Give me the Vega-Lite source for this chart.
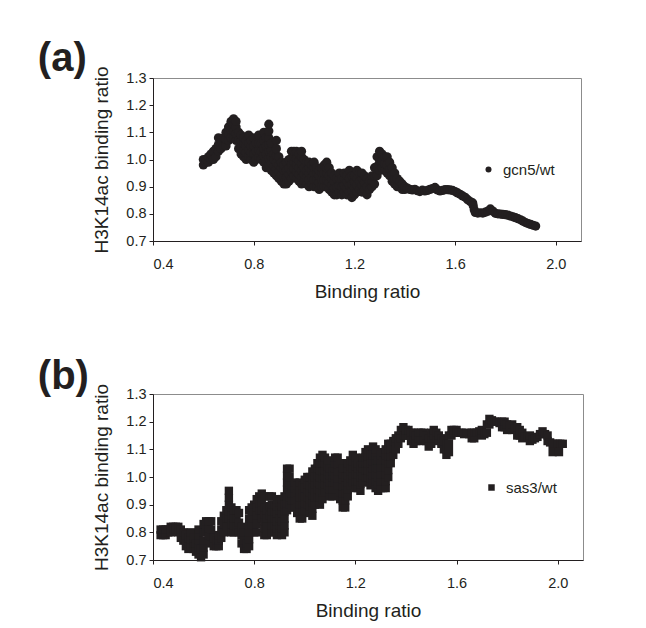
{
"$schema": "https://vega.github.io/schema/vega-lite/v6.json",
"padding": {"left": 37, "top": 38, "right": 0, "bottom": 0},
"background": "white",
"config": {
  "font": "Liberation Sans",
  "view": {"stroke": "#8c8c8c", "strokeWidth": 1},
  "axis": {"domainColor": "#231f20", "tickColor": "#231f20", "labelColor": "#231f20", "titleColor": "#231f20", "grid": false, "labelFontSize": 14.5, "titleFontSize": 19, "titleFontWeight": "normal", "tickSize": 4, "labelFont": "Liberation Sans", "titleFont": "Liberation Sans"},
  "axisX": {"labelPadding": 12, "titlePadding": 12},
  "axisY": {"labelPadding": 3, "titlePadding": 14},
  "legend": {"padding": 0, "labelFontSize": 15, "labelColor": "#231f20", "labelFont": "Liberation Sans", "labelOffset": 7},
  "title": {"fontSize": 40, "fontWeight": "bold", "color": "#231f20", "anchor": "start", "offset": -13, "font": "Liberation Sans"},
  "concat": {"spacing": 54}
},
"vconcat": [
{
  "width": 428, "height": 163,
  "title": {"text": "(a)", "dx": -55},
  "data": {"values": [
{"x":0.6,"y":0.98},{"x":0.6,"y":1.0},{"x":0.61,"y":0.99},{"x":0.61,"y":1.0},{"x":0.62,"y":0.99},{"x":0.62,"y":1.01},{"x":0.63,"y":1.0},{"x":0.63,"y":1.02},{"x":0.64,"y":1.0},{"x":0.64,"y":1.03},{"x":0.65,"y":1.01},{"x":0.65,"y":1.04},
{"x":0.66,"y":1.03},{"x":0.66,"y":1.055},{"x":0.66,"y":1.08},{"x":0.67,"y":1.04},{"x":0.67,"y":1.07},{"x":0.68,"y":1.05},{"x":0.68,"y":1.08},{"x":0.69,"y":1.05},{"x":0.69,"y":1.075},{"x":0.69,"y":1.1},
{"x":0.7,"y":1.07},{"x":0.7,"y":1.095},{"x":0.7,"y":1.12},{"x":0.71,"y":1.08},{"x":0.71,"y":1.11},{"x":0.71,"y":1.14},{"x":0.72,"y":1.08},{"x":0.72,"y":1.105},{"x":0.72,"y":1.13},{"x":0.72,"y":1.15},
{"x":0.73,"y":1.07},{"x":0.73,"y":1.095},{"x":0.73,"y":1.12},{"x":0.73,"y":1.14},{"x":0.74,"y":1.04},{"x":0.74,"y":1.07},{"x":0.74,"y":1.1},{"x":0.75,"y":1.02},{"x":0.75,"y":1.045},{"x":0.75,"y":1.07},{"x":0.75,"y":1.09},
{"x":0.76,"y":1.01},{"x":0.76,"y":1.035},{"x":0.76,"y":1.06},{"x":0.76,"y":1.08},{"x":0.77,"y":1.0},{"x":0.77,"y":1.025},{"x":0.77,"y":1.05},{"x":0.77,"y":1.07},{"x":0.78,"y":1.01},{"x":0.78,"y":1.035},{"x":0.78,"y":1.06},{"x":0.78,"y":1.09},
{"x":0.79,"y":1.0},{"x":0.79,"y":1.025},{"x":0.79,"y":1.05},{"x":0.79,"y":1.07},{"x":0.8,"y":0.99},{"x":0.8,"y":1.02},{"x":0.8,"y":1.05},{"x":0.8,"y":1.08},{"x":0.81,"y":1.0},{"x":0.81,"y":1.03},{"x":0.81,"y":1.06},
{"x":0.82,"y":1.01},{"x":0.82,"y":1.035},{"x":0.82,"y":1.06},{"x":0.82,"y":1.09},{"x":0.83,"y":1.0},{"x":0.83,"y":1.03},{"x":0.83,"y":1.06},{"x":0.84,"y":0.99},{"x":0.84,"y":1.015},{"x":0.84,"y":1.04},{"x":0.84,"y":1.07},{"x":0.84,"y":1.1},
{"x":0.85,"y":0.97},{"x":0.85,"y":0.995},{"x":0.85,"y":1.02},{"x":0.85,"y":1.05},{"x":0.85,"y":1.08},{"x":0.86,"y":0.98},{"x":0.86,"y":1.005},{"x":0.86,"y":1.03},{"x":0.86,"y":1.055},{"x":0.86,"y":1.08},{"x":0.86,"y":1.105},{"x":0.86,"y":1.13},
{"x":0.87,"y":0.96},{"x":0.87,"y":0.985},{"x":0.87,"y":1.01},{"x":0.87,"y":1.035},{"x":0.87,"y":1.06},{"x":0.88,"y":0.95},{"x":0.88,"y":0.975},{"x":0.88,"y":1.0},{"x":0.88,"y":1.02},
{"x":0.89,"y":0.94},{"x":0.89,"y":0.965},{"x":0.89,"y":0.99},{"x":0.89,"y":1.015},{"x":0.89,"y":1.04},{"x":0.89,"y":1.07},{"x":0.9,"y":0.93},{"x":0.9,"y":0.955},{"x":0.9,"y":0.98},{"x":0.9,"y":1.01},
{"x":0.91,"y":0.92},{"x":0.91,"y":0.945},{"x":0.91,"y":0.97},{"x":0.91,"y":0.99},{"x":0.92,"y":0.91},{"x":0.92,"y":0.935},{"x":0.92,"y":0.96},{"x":0.92,"y":0.98},{"x":0.93,"y":0.91},{"x":0.93,"y":0.935},{"x":0.93,"y":0.96},{"x":0.93,"y":0.99},
{"x":0.94,"y":0.92},{"x":0.94,"y":0.945},{"x":0.94,"y":0.97},{"x":0.94,"y":1.0},{"x":0.95,"y":0.93},{"x":0.95,"y":0.955},{"x":0.95,"y":0.98},{"x":0.95,"y":1.005},{"x":0.95,"y":1.03},
{"x":0.96,"y":0.94},{"x":0.96,"y":0.965},{"x":0.96,"y":0.99},{"x":0.96,"y":1.01},{"x":0.96,"y":1.03},{"x":0.97,"y":0.93},{"x":0.97,"y":0.955},{"x":0.97,"y":0.98},{"x":0.97,"y":1.005},{"x":0.97,"y":1.03},
{"x":0.98,"y":0.92},{"x":0.98,"y":0.945},{"x":0.98,"y":0.97},{"x":0.98,"y":0.995},{"x":0.98,"y":1.02},{"x":0.99,"y":0.91},{"x":0.99,"y":0.935},{"x":0.99,"y":0.96},{"x":0.99,"y":0.985},{"x":0.99,"y":1.01},{"x":0.99,"y":1.03},
{"x":1.0,"y":0.92},{"x":1.0,"y":0.945},{"x":1.0,"y":0.97},{"x":1.0,"y":1.0},{"x":1.01,"y":0.91},{"x":1.01,"y":0.935},{"x":1.01,"y":0.96},{"x":1.01,"y":0.99},
{"x":1.02,"y":0.9},{"x":1.02,"y":0.925},{"x":1.02,"y":0.95},{"x":1.02,"y":0.97},{"x":1.02,"y":0.99},{"x":1.03,"y":0.91},{"x":1.03,"y":0.935},{"x":1.03,"y":0.96},{"x":1.03,"y":0.98},
{"x":1.04,"y":0.9},{"x":1.04,"y":0.925},{"x":1.04,"y":0.95},{"x":1.04,"y":0.97},{"x":1.04,"y":0.99},{"x":1.05,"y":0.9},{"x":1.05,"y":0.925},{"x":1.05,"y":0.95},{"x":1.05,"y":0.97},
{"x":1.06,"y":0.89},{"x":1.06,"y":0.915},{"x":1.06,"y":0.94},{"x":1.06,"y":0.96},{"x":1.07,"y":0.9},{"x":1.07,"y":0.925},{"x":1.07,"y":0.95},{"x":1.07,"y":0.97},
{"x":1.08,"y":0.9},{"x":1.08,"y":0.925},{"x":1.08,"y":0.95},{"x":1.08,"y":0.98},{"x":1.09,"y":0.9},{"x":1.09,"y":0.925},{"x":1.09,"y":0.95},{"x":1.09,"y":0.97},{"x":1.09,"y":0.99},
{"x":1.1,"y":0.89},{"x":1.1,"y":0.915},{"x":1.1,"y":0.94},{"x":1.1,"y":0.97},{"x":1.11,"y":0.88},{"x":1.11,"y":0.905},{"x":1.11,"y":0.93},{"x":1.11,"y":0.95},
{"x":1.12,"y":0.87},{"x":1.12,"y":0.895},{"x":1.12,"y":0.92},{"x":1.12,"y":0.94},{"x":1.13,"y":0.87},{"x":1.13,"y":0.9},{"x":1.13,"y":0.93},
{"x":1.14,"y":0.88},{"x":1.14,"y":0.905},{"x":1.14,"y":0.93},{"x":1.14,"y":0.95},{"x":1.15,"y":0.87},{"x":1.15,"y":0.9},{"x":1.15,"y":0.93},
{"x":1.16,"y":0.88},{"x":1.16,"y":0.905},{"x":1.16,"y":0.93},{"x":1.16,"y":0.95},{"x":1.17,"y":0.87},{"x":1.17,"y":0.895},{"x":1.17,"y":0.92},{"x":1.17,"y":0.94},
{"x":1.18,"y":0.88},{"x":1.18,"y":0.905},{"x":1.18,"y":0.93},{"x":1.18,"y":0.96},{"x":1.19,"y":0.86},{"x":1.19,"y":0.885},{"x":1.19,"y":0.91},{"x":1.19,"y":0.94},
{"x":1.2,"y":0.87},{"x":1.2,"y":0.895},{"x":1.2,"y":0.92},{"x":1.2,"y":0.94},{"x":1.21,"y":0.88},{"x":1.21,"y":0.905},{"x":1.21,"y":0.93},{"x":1.21,"y":0.96},
{"x":1.22,"y":0.89},{"x":1.22,"y":0.92},{"x":1.22,"y":0.95},{"x":1.23,"y":0.88},{"x":1.23,"y":0.905},{"x":1.23,"y":0.93},{"x":1.23,"y":0.95},
{"x":1.24,"y":0.89},{"x":1.24,"y":0.915},{"x":1.24,"y":0.94},{"x":1.25,"y":0.87},{"x":1.25,"y":0.9},{"x":1.25,"y":0.93},{"x":1.26,"y":0.89},{"x":1.26,"y":0.92},
{"x":1.27,"y":0.9},{"x":1.27,"y":0.92},{"x":1.27,"y":0.94},{"x":1.28,"y":0.91},{"x":1.28,"y":0.94},{"x":1.28,"y":0.97},{"x":1.29,"y":0.94},{"x":1.29,"y":0.975},{"x":1.29,"y":1.01},
{"x":1.3,"y":0.96},{"x":1.3,"y":0.995},{"x":1.3,"y":1.03},{"x":1.31,"y":0.97},{"x":1.31,"y":0.995},{"x":1.31,"y":1.02},{"x":1.32,"y":0.96},{"x":1.32,"y":0.985},{"x":1.32,"y":1.01},
{"x":1.33,"y":0.95},{"x":1.33,"y":0.98},{"x":1.33,"y":1.01},{"x":1.34,"y":0.94},{"x":1.34,"y":0.965},{"x":1.34,"y":0.99},{"x":1.35,"y":0.92},{"x":1.35,"y":0.945},{"x":1.35,"y":0.97},
{"x":1.36,"y":0.91},{"x":1.36,"y":0.93},{"x":1.36,"y":0.95},{"x":1.37,"y":0.9},{"x":1.37,"y":0.93},{"x":1.38,"y":0.9},{"x":1.38,"y":0.92},{"x":1.39,"y":0.89},{"x":1.39,"y":0.91},{"x":1.4,"y":0.89},{"x":1.4,"y":0.9},
{"x":1.41,"y":0.895},{"x":1.42,"y":0.89},{"x":1.43,"y":0.888},{"x":1.44,"y":0.89},{"x":1.45,"y":0.885},{"x":1.46,"y":0.882},{"x":1.47,"y":0.887},{"x":1.48,"y":0.884},{"x":1.49,"y":0.886},{"x":1.5,"y":0.89},
{"x":1.51,"y":0.893},{"x":1.52,"y":0.897},{"x":1.53,"y":0.888},{"x":1.54,"y":0.884},{"x":1.55,"y":0.886},{"x":1.56,"y":0.889},{"x":1.57,"y":0.889},{"x":1.58,"y":0.888},{"x":1.59,"y":0.886},{"x":1.6,"y":0.882},
{"x":1.61,"y":0.877},{"x":1.62,"y":0.872},{"x":1.63,"y":0.866},{"x":1.64,"y":0.861},{"x":1.65,"y":0.852},{"x":1.66,"y":0.845},{"x":1.67,"y":0.84},{"x":1.672,"y":0.83},{"x":1.676,"y":0.815},{"x":1.68,"y":0.805},
{"x":1.69,"y":0.803},{"x":1.7,"y":0.804},{"x":1.71,"y":0.803},{"x":1.72,"y":0.806},{"x":1.73,"y":0.81},{"x":1.74,"y":0.818},{"x":1.75,"y":0.81},{"x":1.76,"y":0.802},{"x":1.77,"y":0.8},{"x":1.78,"y":0.799},
{"x":1.79,"y":0.798},{"x":1.8,"y":0.797},{"x":1.81,"y":0.795},{"x":1.82,"y":0.792},{"x":1.83,"y":0.789},{"x":1.84,"y":0.786},{"x":1.85,"y":0.782},{"x":1.86,"y":0.778},{"x":1.87,"y":0.773},{"x":1.88,"y":0.768},
{"x":1.89,"y":0.764},{"x":1.9,"y":0.761},{"x":1.91,"y":0.758},{"x":1.92,"y":0.755}
  ]},
  "mark": {"type": "point", "filled": true, "opacity": 1, "size": 85, "shape": "circle", "strokeWidth": 0},
  "encoding": {
    "x": {"field": "x", "type": "quantitative", "scale": {"domain": [0.4, 2.1], "nice": false, "zero": false}, "axis": {"values": [0.4, 0.8, 1.2, 1.6, 2.0], "format": ".1f", "title": "Binding ratio"}},
    "y": {"field": "y", "type": "quantitative", "scale": {"domain": [0.7, 1.3], "nice": false, "zero": false}, "axis": {"values": [0.7, 0.8, 0.9, 1.0, 1.1, 1.2, 1.3], "format": ".1f", "title": "H3K14ac binding ratio"}},
    "color": {"datum": "gcn5/wt", "type": "nominal", "scale": {"range": ["#231f20"]}, "legend": {"title": null, "orient": "none", "legendX": 328, "legendY": 84, "symbolType": "circle", "symbolSize": 36}}
  }
},
{
  "width": 430, "height": 166,
  "title": {"text": "(b)", "dx": -55},
  "data": {"values": [
{"x":0.43,"y":0.79},{"x":0.43,"y":0.81},{"x":0.44,"y":0.79},{"x":0.44,"y":0.81},{"x":0.45,"y":0.79},{"x":0.45,"y":0.81},{"x":0.46,"y":0.8},{"x":0.46,"y":0.81},{"x":0.47,"y":0.8},{"x":0.47,"y":0.82},
{"x":0.48,"y":0.81},{"x":0.48,"y":0.82},{"x":0.49,"y":0.81},{"x":0.49,"y":0.82},{"x":0.5,"y":0.8},{"x":0.5,"y":0.82},{"x":0.51,"y":0.78},{"x":0.51,"y":0.81},{"x":0.52,"y":0.77},{"x":0.52,"y":0.8},
{"x":0.53,"y":0.75},{"x":0.53,"y":0.77},{"x":0.53,"y":0.79},{"x":0.54,"y":0.74},{"x":0.54,"y":0.76},{"x":0.54,"y":0.78},{"x":0.55,"y":0.75},{"x":0.55,"y":0.775},{"x":0.55,"y":0.8},
{"x":0.56,"y":0.74},{"x":0.56,"y":0.76},{"x":0.56,"y":0.78},{"x":0.57,"y":0.73},{"x":0.57,"y":0.76},{"x":0.58,"y":0.72},{"x":0.58,"y":0.745},{"x":0.58,"y":0.77},{"x":0.58,"y":0.79},{"x":0.58,"y":0.81},
{"x":0.59,"y":0.71},{"x":0.59,"y":0.74},{"x":0.6,"y":0.72},{"x":0.6,"y":0.745},{"x":0.6,"y":0.77},{"x":0.6,"y":0.8},{"x":0.6,"y":0.83},{"x":0.61,"y":0.8},{"x":0.61,"y":0.82},{"x":0.61,"y":0.84},
{"x":0.62,"y":0.79},{"x":0.62,"y":0.815},{"x":0.62,"y":0.84},{"x":0.63,"y":0.76},{"x":0.63,"y":0.785},{"x":0.63,"y":0.81},{"x":0.63,"y":0.84},{"x":0.64,"y":0.75},{"x":0.64,"y":0.78},{"x":0.65,"y":0.75},{"x":0.65,"y":0.77},
{"x":0.66,"y":0.75},{"x":0.66,"y":0.77},{"x":0.66,"y":0.79},{"x":0.67,"y":0.78},{"x":0.67,"y":0.81},{"x":0.67,"y":0.84},{"x":0.68,"y":0.8},{"x":0.68,"y":0.83},{"x":0.68,"y":0.86},{"x":0.69,"y":0.82},{"x":0.69,"y":0.85},{"x":0.69,"y":0.88},
{"x":0.7,"y":0.85},{"x":0.7,"y":0.875},{"x":0.7,"y":0.9},{"x":0.7,"y":0.925},{"x":0.7,"y":0.95},{"x":0.71,"y":0.8},{"x":0.71,"y":0.83},{"x":0.71,"y":0.86},{"x":0.71,"y":0.89},
{"x":0.72,"y":0.8},{"x":0.72,"y":0.825},{"x":0.72,"y":0.85},{"x":0.72,"y":0.88},{"x":0.73,"y":0.82},{"x":0.73,"y":0.85},{"x":0.73,"y":0.88},{"x":0.74,"y":0.8},{"x":0.74,"y":0.835},{"x":0.74,"y":0.87},
{"x":0.75,"y":0.76},{"x":0.75,"y":0.79},{"x":0.75,"y":0.82},{"x":0.76,"y":0.74},{"x":0.76,"y":0.77},{"x":0.76,"y":0.8},{"x":0.77,"y":0.74},{"x":0.77,"y":0.76},
{"x":0.78,"y":0.75},{"x":0.78,"y":0.775},{"x":0.78,"y":0.8},{"x":0.78,"y":0.825},{"x":0.78,"y":0.85},{"x":0.78,"y":0.88},{"x":0.79,"y":0.83},{"x":0.79,"y":0.86},{"x":0.79,"y":0.89},
{"x":0.8,"y":0.8},{"x":0.8,"y":0.825},{"x":0.8,"y":0.85},{"x":0.8,"y":0.875},{"x":0.8,"y":0.9},{"x":0.81,"y":0.8},{"x":0.81,"y":0.83},{"x":0.81,"y":0.86},{"x":0.81,"y":0.89},{"x":0.81,"y":0.92},
{"x":0.82,"y":0.88},{"x":0.82,"y":0.905},{"x":0.82,"y":0.93},{"x":0.83,"y":0.85},{"x":0.83,"y":0.88},{"x":0.83,"y":0.91},{"x":0.83,"y":0.94},
{"x":0.84,"y":0.79},{"x":0.84,"y":0.815},{"x":0.84,"y":0.84},{"x":0.84,"y":0.865},{"x":0.84,"y":0.89},{"x":0.84,"y":0.93},{"x":0.85,"y":0.79},{"x":0.85,"y":0.82},{"x":0.85,"y":0.85},{"x":0.85,"y":0.88},
{"x":0.86,"y":0.86},{"x":0.86,"y":0.895},{"x":0.86,"y":0.93},{"x":0.87,"y":0.8},{"x":0.87,"y":0.825},{"x":0.87,"y":0.85},{"x":0.87,"y":0.875},{"x":0.87,"y":0.9},{"x":0.87,"y":0.93},
{"x":0.88,"y":0.8},{"x":0.88,"y":0.825},{"x":0.88,"y":0.85},{"x":0.88,"y":0.875},{"x":0.88,"y":0.9},{"x":0.89,"y":0.79},{"x":0.89,"y":0.815},{"x":0.89,"y":0.84},{"x":0.89,"y":0.87},{"x":0.89,"y":0.895},{"x":0.89,"y":0.92},
{"x":0.9,"y":0.8},{"x":0.9,"y":0.825},{"x":0.9,"y":0.85},{"x":0.9,"y":0.88},{"x":0.9,"y":0.91},{"x":0.91,"y":0.79},{"x":0.91,"y":0.815},{"x":0.91,"y":0.84},{"x":0.91,"y":0.87},{"x":0.91,"y":0.895},{"x":0.91,"y":0.92},
{"x":0.92,"y":0.8},{"x":0.92,"y":0.825},{"x":0.92,"y":0.85},{"x":0.92,"y":0.875},{"x":0.92,"y":0.9},{"x":0.92,"y":0.93},
{"x":0.93,"y":0.88},{"x":0.93,"y":0.905},{"x":0.93,"y":0.93},{"x":0.93,"y":0.955},{"x":0.93,"y":0.98},{"x":0.93,"y":1.005},{"x":0.93,"y":1.03},
{"x":0.94,"y":0.9},{"x":0.94,"y":0.925},{"x":0.94,"y":0.95},{"x":0.94,"y":0.975},{"x":0.94,"y":1.0},{"x":0.94,"y":1.03},{"x":0.95,"y":0.89},{"x":0.95,"y":0.915},{"x":0.95,"y":0.94},{"x":0.95,"y":0.97},
{"x":0.96,"y":0.89},{"x":0.96,"y":0.915},{"x":0.96,"y":0.94},{"x":0.96,"y":0.96},{"x":0.96,"y":0.98},{"x":0.97,"y":0.87},{"x":0.97,"y":0.895},{"x":0.97,"y":0.92},{"x":0.97,"y":0.945},{"x":0.97,"y":0.97},
{"x":0.98,"y":0.85},{"x":0.98,"y":0.875},{"x":0.98,"y":0.9},{"x":0.98,"y":0.925},{"x":0.98,"y":0.95},{"x":0.98,"y":0.98},{"x":0.99,"y":0.85},{"x":0.99,"y":0.875},{"x":0.99,"y":0.9},{"x":0.99,"y":0.925},{"x":0.99,"y":0.95},{"x":0.99,"y":0.97},
{"x":1.0,"y":0.88},{"x":1.0,"y":0.905},{"x":1.0,"y":0.93},{"x":1.0,"y":0.96},{"x":1.0,"y":0.99},{"x":1.01,"y":0.9},{"x":1.01,"y":0.925},{"x":1.01,"y":0.95},{"x":1.01,"y":0.975},{"x":1.01,"y":1.0},
{"x":1.02,"y":0.87},{"x":1.02,"y":0.895},{"x":1.02,"y":0.92},{"x":1.02,"y":0.945},{"x":1.02,"y":0.97},{"x":1.02,"y":1.0},
{"x":1.03,"y":0.86},{"x":1.03,"y":0.885},{"x":1.03,"y":0.91},{"x":1.03,"y":0.935},{"x":1.03,"y":0.96},{"x":1.03,"y":0.99},{"x":1.03,"y":1.02},
{"x":1.04,"y":0.9},{"x":1.04,"y":0.925},{"x":1.04,"y":0.95},{"x":1.04,"y":0.975},{"x":1.04,"y":1.0},{"x":1.04,"y":1.03},
{"x":1.05,"y":0.93},{"x":1.05,"y":0.955},{"x":1.05,"y":0.98},{"x":1.05,"y":1.005},{"x":1.05,"y":1.03},{"x":1.05,"y":1.05},
{"x":1.06,"y":0.9},{"x":1.06,"y":0.925},{"x":1.06,"y":0.95},{"x":1.06,"y":0.975},{"x":1.06,"y":1.0},{"x":1.06,"y":1.025},{"x":1.06,"y":1.05},{"x":1.06,"y":1.07},
{"x":1.07,"y":0.92},{"x":1.07,"y":0.945},{"x":1.07,"y":0.97},{"x":1.07,"y":0.995},{"x":1.07,"y":1.02},{"x":1.07,"y":1.05},{"x":1.07,"y":1.08},
{"x":1.08,"y":0.95},{"x":1.08,"y":0.975},{"x":1.08,"y":1.0},{"x":1.08,"y":1.025},{"x":1.08,"y":1.05},{"x":1.08,"y":1.07},
{"x":1.09,"y":0.97},{"x":1.09,"y":0.995},{"x":1.09,"y":1.02},{"x":1.09,"y":1.04},{"x":1.09,"y":1.06},{"x":1.1,"y":0.93},{"x":1.1,"y":0.955},{"x":1.1,"y":0.98},{"x":1.1,"y":1.005},{"x":1.1,"y":1.03},
{"x":1.11,"y":0.93},{"x":1.11,"y":0.955},{"x":1.11,"y":0.98},{"x":1.11,"y":1.0},{"x":1.11,"y":1.02},{"x":1.12,"y":0.98},{"x":1.12,"y":1.005},{"x":1.12,"y":1.03},{"x":1.12,"y":1.05},{"x":1.12,"y":1.07},
{"x":1.13,"y":0.97},{"x":1.13,"y":0.995},{"x":1.13,"y":1.02},{"x":1.13,"y":1.045},{"x":1.13,"y":1.07},
{"x":1.14,"y":0.92},{"x":1.14,"y":0.945},{"x":1.14,"y":0.97},{"x":1.14,"y":0.995},{"x":1.14,"y":1.02},{"x":1.14,"y":1.05},
{"x":1.15,"y":0.89},{"x":1.15,"y":0.915},{"x":1.15,"y":0.94},{"x":1.15,"y":0.965},{"x":1.15,"y":0.99},{"x":1.15,"y":1.01},{"x":1.15,"y":1.03},
{"x":1.16,"y":0.89},{"x":1.16,"y":0.915},{"x":1.16,"y":0.94},{"x":1.16,"y":0.97},{"x":1.16,"y":1.0},
{"x":1.17,"y":0.93},{"x":1.17,"y":0.955},{"x":1.17,"y":0.98},{"x":1.17,"y":1.005},{"x":1.17,"y":1.03},{"x":1.17,"y":1.05},
{"x":1.18,"y":0.97},{"x":1.18,"y":0.995},{"x":1.18,"y":1.02},{"x":1.18,"y":1.04},{"x":1.18,"y":1.06},
{"x":1.19,"y":0.98},{"x":1.19,"y":1.005},{"x":1.19,"y":1.03},{"x":1.19,"y":1.055},{"x":1.19,"y":1.08},
{"x":1.2,"y":0.96},{"x":1.2,"y":0.985},{"x":1.2,"y":1.01},{"x":1.2,"y":1.04},{"x":1.2,"y":1.07},
{"x":1.21,"y":0.96},{"x":1.21,"y":0.985},{"x":1.21,"y":1.01},{"x":1.21,"y":1.03},{"x":1.21,"y":1.05},
{"x":1.22,"y":0.95},{"x":1.22,"y":0.975},{"x":1.22,"y":1.0},{"x":1.22,"y":1.02},{"x":1.22,"y":1.04},
{"x":1.23,"y":0.98},{"x":1.23,"y":1.005},{"x":1.23,"y":1.03},{"x":1.23,"y":1.05},{"x":1.23,"y":1.07},
{"x":1.24,"y":1.0},{"x":1.24,"y":1.025},{"x":1.24,"y":1.05},{"x":1.24,"y":1.07},{"x":1.24,"y":1.09},
{"x":1.25,"y":1.0},{"x":1.25,"y":1.025},{"x":1.25,"y":1.05},{"x":1.25,"y":1.075},{"x":1.25,"y":1.1},
{"x":1.26,"y":0.97},{"x":1.26,"y":0.995},{"x":1.26,"y":1.02},{"x":1.26,"y":1.05},{"x":1.26,"y":1.08},
{"x":1.27,"y":0.98},{"x":1.27,"y":1.005},{"x":1.27,"y":1.03},{"x":1.27,"y":1.055},{"x":1.27,"y":1.08},{"x":1.27,"y":1.11},
{"x":1.28,"y":0.96},{"x":1.28,"y":0.985},{"x":1.28,"y":1.01},{"x":1.28,"y":1.035},{"x":1.28,"y":1.06},{"x":1.28,"y":1.08},{"x":1.28,"y":1.1},
{"x":1.29,"y":0.95},{"x":1.29,"y":0.975},{"x":1.29,"y":1.0},{"x":1.29,"y":1.03},{"x":1.29,"y":1.06},
{"x":1.3,"y":0.96},{"x":1.3,"y":0.985},{"x":1.3,"y":1.01},{"x":1.3,"y":1.035},{"x":1.3,"y":1.06},{"x":1.3,"y":1.08},
{"x":1.31,"y":0.96},{"x":1.31,"y":0.985},{"x":1.31,"y":1.01},{"x":1.31,"y":1.035},{"x":1.31,"y":1.06},{"x":1.31,"y":1.09},
{"x":1.32,"y":0.96},{"x":1.32,"y":0.985},{"x":1.32,"y":1.01},{"x":1.32,"y":1.035},{"x":1.32,"y":1.06},{"x":1.32,"y":1.08},{"x":1.32,"y":1.1},
{"x":1.33,"y":1.0},{"x":1.33,"y":1.025},{"x":1.33,"y":1.05},{"x":1.33,"y":1.075},{"x":1.33,"y":1.1},{"x":1.33,"y":1.12},
{"x":1.34,"y":1.05},{"x":1.34,"y":1.075},{"x":1.34,"y":1.1},{"x":1.34,"y":1.12},{"x":1.35,"y":1.08},{"x":1.35,"y":1.105},{"x":1.35,"y":1.13},
{"x":1.36,"y":1.1},{"x":1.36,"y":1.12},{"x":1.36,"y":1.14},{"x":1.37,"y":1.12},{"x":1.37,"y":1.15},{"x":1.38,"y":1.14},{"x":1.38,"y":1.17},{"x":1.39,"y":1.15},{"x":1.39,"y":1.18},
{"x":1.4,"y":1.15},{"x":1.4,"y":1.17},{"x":1.41,"y":1.15},{"x":1.41,"y":1.17},{"x":1.42,"y":1.13},{"x":1.42,"y":1.16},{"x":1.43,"y":1.12},{"x":1.43,"y":1.14},{"x":1.43,"y":1.16},
{"x":1.44,"y":1.13},{"x":1.44,"y":1.15},{"x":1.45,"y":1.14},{"x":1.45,"y":1.16},{"x":1.46,"y":1.13},{"x":1.46,"y":1.16},{"x":1.47,"y":1.14},{"x":1.47,"y":1.16},{"x":1.48,"y":1.13},{"x":1.48,"y":1.15},
{"x":1.49,"y":1.11},{"x":1.49,"y":1.14},{"x":1.5,"y":1.12},{"x":1.5,"y":1.14},{"x":1.5,"y":1.16},{"x":1.51,"y":1.15},{"x":1.51,"y":1.17},{"x":1.52,"y":1.14},{"x":1.52,"y":1.16},
{"x":1.53,"y":1.13},{"x":1.53,"y":1.15},{"x":1.54,"y":1.12},{"x":1.54,"y":1.14},{"x":1.55,"y":1.1},{"x":1.55,"y":1.13},{"x":1.56,"y":1.08},{"x":1.56,"y":1.1},{"x":1.56,"y":1.12},
{"x":1.57,"y":1.09},{"x":1.57,"y":1.12},{"x":1.57,"y":1.15},{"x":1.58,"y":1.15},{"x":1.58,"y":1.17},{"x":1.59,"y":1.16},{"x":1.59,"y":1.17},{"x":1.6,"y":1.16},{"x":1.6,"y":1.17},
{"x":1.61,"y":1.16},{"x":1.62,"y":1.16},{"x":1.63,"y":1.155},{"x":1.64,"y":1.16},{"x":1.65,"y":1.155},{"x":1.66,"y":1.14},{"x":1.66,"y":1.16},{"x":1.67,"y":1.14},{"x":1.67,"y":1.16},
{"x":1.68,"y":1.16},{"x":1.69,"y":1.165},{"x":1.7,"y":1.15},{"x":1.7,"y":1.17},{"x":1.71,"y":1.155},{"x":1.72,"y":1.16},{"x":1.72,"y":1.19},{"x":1.73,"y":1.19},{"x":1.73,"y":1.21},
{"x":1.74,"y":1.205},{"x":1.75,"y":1.2},{"x":1.76,"y":1.2},{"x":1.77,"y":1.195},{"x":1.78,"y":1.18},{"x":1.78,"y":1.2},{"x":1.79,"y":1.18},{"x":1.79,"y":1.2},{"x":1.8,"y":1.17},{"x":1.8,"y":1.19},
{"x":1.81,"y":1.185},{"x":1.82,"y":1.17},{"x":1.82,"y":1.19},{"x":1.83,"y":1.175},{"x":1.84,"y":1.15},{"x":1.84,"y":1.18},{"x":1.85,"y":1.15},{"x":1.85,"y":1.17},{"x":1.86,"y":1.14},{"x":1.86,"y":1.16},
{"x":1.87,"y":1.145},{"x":1.88,"y":1.145},{"x":1.89,"y":1.13},{"x":1.89,"y":1.15},{"x":1.9,"y":1.135},{"x":1.91,"y":1.14},{"x":1.92,"y":1.145},{"x":1.93,"y":1.155},{"x":1.94,"y":1.165},{"x":1.95,"y":1.155},
{"x":1.96,"y":1.13},{"x":1.96,"y":1.15},{"x":1.97,"y":1.125},{"x":1.98,"y":1.12},{"x":1.99,"y":1.12},{"x":2.0,"y":1.12},{"x":2.01,"y":1.12},{"x":2.02,"y":1.12},{"x":1.98,"y":1.09},{"x":2.005,"y":1.09}
  ]},
  "mark": {"type": "point", "filled": true, "opacity": 1, "size": 70, "shape": "square", "strokeWidth": 0},
  "encoding": {
    "x": {"field": "x", "type": "quantitative", "scale": {"domain": [0.4, 2.1], "nice": false, "zero": false}, "axis": {"values": [0.4, 0.8, 1.2, 1.6, 2.0], "format": ".1f", "title": "Binding ratio"}},
    "y": {"field": "y", "type": "quantitative", "scale": {"domain": [0.7, 1.3], "nice": false, "zero": false}, "axis": {"values": [0.7, 0.8, 0.9, 1.0, 1.1, 1.2, 1.3], "format": ".1f", "title": "H3K14ac binding ratio"}},
    "color": {"datum": "sas3/wt", "type": "nominal", "scale": {"range": ["#231f20"]}, "legend": {"title": null, "orient": "none", "legendX": 331, "legendY": 86, "symbolType": "square", "symbolSize": 42}}
  }
}
],
"resolve": {"scale": {"color": "independent"}, "legend": {"color": "independent"}}
}
